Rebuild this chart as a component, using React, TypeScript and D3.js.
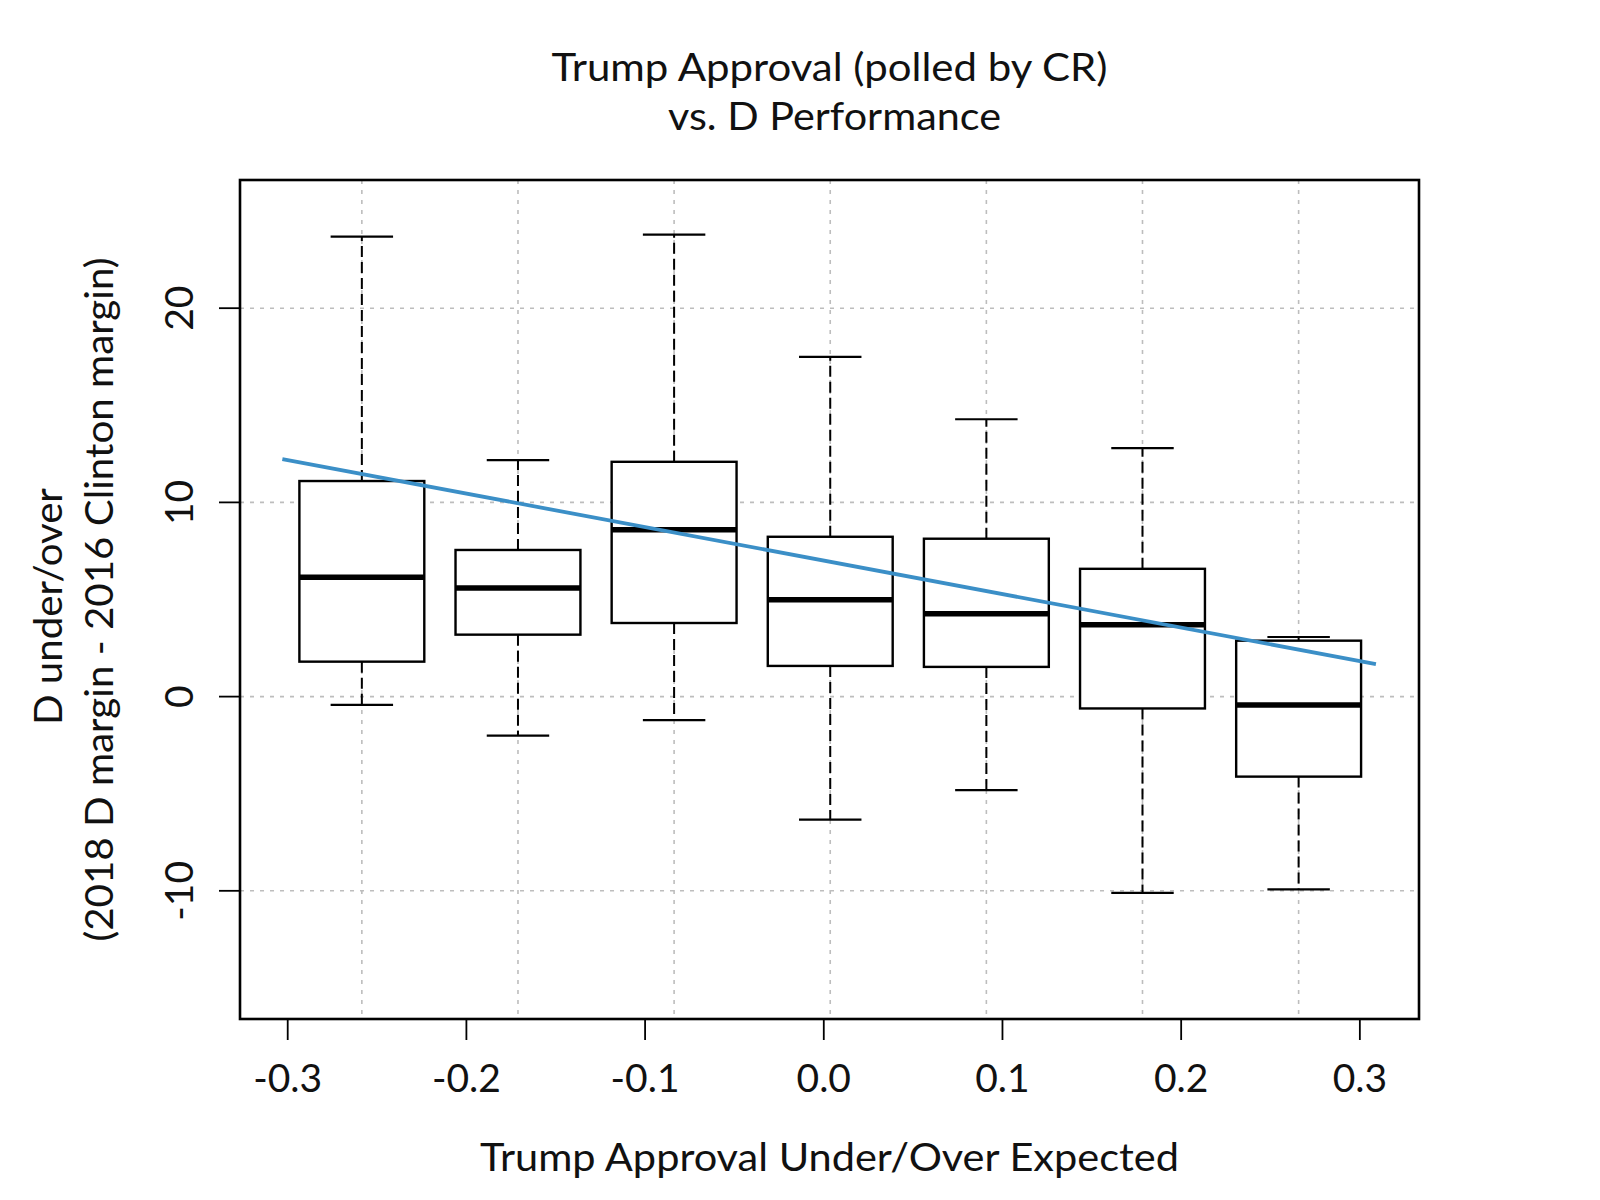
import React from "react";
import * as d3 from "d3";

// ---- data ----
const boxGroups = [1, 2, 3, 4, 5, 6, 7];
const whiskerLow = [-0.43, -2.01, -1.21, -6.33, -4.82, -10.11, -9.93];
const q1 = [1.8, 3.19, 3.79, 1.58, 1.53, -0.61, -4.12];
const medians = [6.14, 5.59, 8.59, 4.99, 4.27, 3.7, -0.43];
const q3 = [11.1, 7.55, 12.09, 8.23, 8.13, 6.58, 2.88];
const whiskerHigh = [23.68, 12.18, 23.79, 17.49, 14.28, 12.79, 3.07];

const fitX = [-0.303, 0.309];
const fitY = [12.23, 1.67];

const xTicks = [-0.3, -0.2, -0.1, 0.0, 0.1, 0.2, 0.3];
const yTicks = [-10, 0, 10, 20];

const titleLines = ["Trump Approval (polled by CR)", "vs. D Performance"];
const xTitle = "Trump Approval Under/Over Expected";
const yTitleLines = ["D under/over", "(2018 D margin - 2016 Clinton margin)"];

// ---- layout ----
const W = 1600;
const H = 1200;
const plot = { left: 240, right: 1419, top: 180, bottom: 1019 };
const FONT = "Lato, 'Noto Sans', sans-serif";

export default function App() {
  const yScale = d3.scaleLinear().domain([-16.6, 26.6]).range([plot.bottom, plot.top]);
  const boxX = d3.scaleLinear().domain([0.2196, 7.771]).range([plot.left, plot.right]);
  const fitScaleX = d3.scaleLinear().domain([-0.3267, 0.3331]).range([plot.left, plot.right]);

  const boxW = (boxX(1) - boxX(0)) * 0.8;
  const capW = boxW * 0.5;

  const fitLine = d3
    .line<number>()
    .x((_, i) => fitScaleX(fitX[i]))
    .y((d) => yScale(d));

  const gridColor = "#bdbdbd";
  const gridDash = "4,6";
  const cx0 = (plot.left + plot.right) / 2;
  const cy0 = (plot.top + plot.bottom) / 2;

  return (
    <svg
      width={W}
      height={H}
      style={{ position: "absolute", left: 0, top: 0, background: "#fff" }}
      fontFamily={FONT}
    >
      <rect x={0} y={0} width={W} height={H} fill="#fff" />
      {/* title */}
      <text x={cx0} y={81} textAnchor="middle" fontSize={38} fill="#111" textLength={556} lengthAdjust="spacingAndGlyphs">
        {titleLines[0]}
      </text>
      <text x={cx0 + 5} y={130} textAnchor="middle" fontSize={38} fill="#111" textLength={333} lengthAdjust="spacingAndGlyphs">
        {titleLines[1]}
      </text>

      {/* grid */}
      {yTicks.map((t) => (
        <line
          key={"gy" + t}
          x1={plot.left}
          x2={plot.right}
          y1={yScale(t)}
          y2={yScale(t)}
          stroke={gridColor}
          strokeWidth={1.6}
          strokeDasharray={gridDash}
        />
      ))}
      {boxGroups.map((g) => (
        <line
          key={"gx" + g}
          x1={boxX(g)}
          x2={boxX(g)}
          y1={plot.top}
          y2={plot.bottom}
          stroke={gridColor}
          strokeWidth={1.6}
          strokeDasharray={gridDash}
        />
      ))}

      {/* boxplots */}
      {boxGroups.map((g, i) => {
        const cx = boxX(g);
        return (
          <g key={"b" + g}>
            <line x1={cx} x2={cx} y1={yScale(q3[i])} y2={yScale(whiskerHigh[i])} stroke="#000" strokeWidth={2} strokeDasharray="11,5" />
            <line x1={cx} x2={cx} y1={yScale(q1[i])} y2={yScale(whiskerLow[i])} stroke="#000" strokeWidth={2} strokeDasharray="11,5" />
            <line x1={cx - capW / 2} x2={cx + capW / 2} y1={yScale(whiskerHigh[i])} y2={yScale(whiskerHigh[i])} stroke="#000" strokeWidth={2.2} />
            <line x1={cx - capW / 2} x2={cx + capW / 2} y1={yScale(whiskerLow[i])} y2={yScale(whiskerLow[i])} stroke="#000" strokeWidth={2.2} />
            <rect
              x={cx - boxW / 2}
              y={yScale(q3[i])}
              width={boxW}
              height={yScale(q1[i]) - yScale(q3[i])}
              fill="#fff"
              stroke="#000"
              strokeWidth={2.4}
            />
            <line x1={cx - boxW / 2} x2={cx + boxW / 2} y1={yScale(medians[i])} y2={yScale(medians[i])} stroke="#000" strokeWidth={5.5} />
          </g>
        );
      })}

      {/* regression line */}
      <path d={fitLine(fitY) || ""} fill="none" stroke="#3b8fc7" strokeWidth={3.8} />

      {/* plot border */}
      <rect
        x={plot.left}
        y={plot.top}
        width={plot.right - plot.left}
        height={plot.bottom - plot.top}
        fill="none"
        stroke="#000"
        strokeWidth={2.6}
      />

      {/* x axis */}
      {xTicks.map((t) => (
        <g key={"xt" + t}>
          <line x1={fitScaleX(t)} x2={fitScaleX(t)} y1={plot.bottom} y2={plot.bottom + 21} stroke="#000" strokeWidth={1.8} />
          <text x={fitScaleX(t)} y={1092} textAnchor="middle" fontSize={39} fill="#111">
            {t.toFixed(1)}
          </text>
        </g>
      ))}
      <text x={cx0} y={1171} textAnchor="middle" fontSize={38} fill="#111" textLength={699} lengthAdjust="spacingAndGlyphs">
        {xTitle}
      </text>

      {/* y axis */}
      {yTicks.map((t) => (
        <g key={"yt" + t}>
          <line x1={plot.left - 21} x2={plot.left} y1={yScale(t)} y2={yScale(t)} stroke="#000" strokeWidth={1.8} />
          <text transform={`translate(193,${yScale(t)}) rotate(-90)`} textAnchor="middle" fontSize={39} fill="#111">
            {String(t)}
          </text>
        </g>
      ))}
      <text
        transform={`translate(62,${cy0 + 7}) rotate(-90)`}
        textAnchor="middle"
        fontSize={38}
        fill="#111"
        textLength={237}
        lengthAdjust="spacingAndGlyphs"
      >
        {yTitleLines[0]}
      </text>
      <text
        transform={`translate(113,${cy0}) rotate(-90)`}
        textAnchor="middle"
        fontSize={38}
        fill="#111"
        textLength={684}
        lengthAdjust="spacingAndGlyphs"
      >
        {yTitleLines[1]}
      </text>
    </svg>
  );
}
